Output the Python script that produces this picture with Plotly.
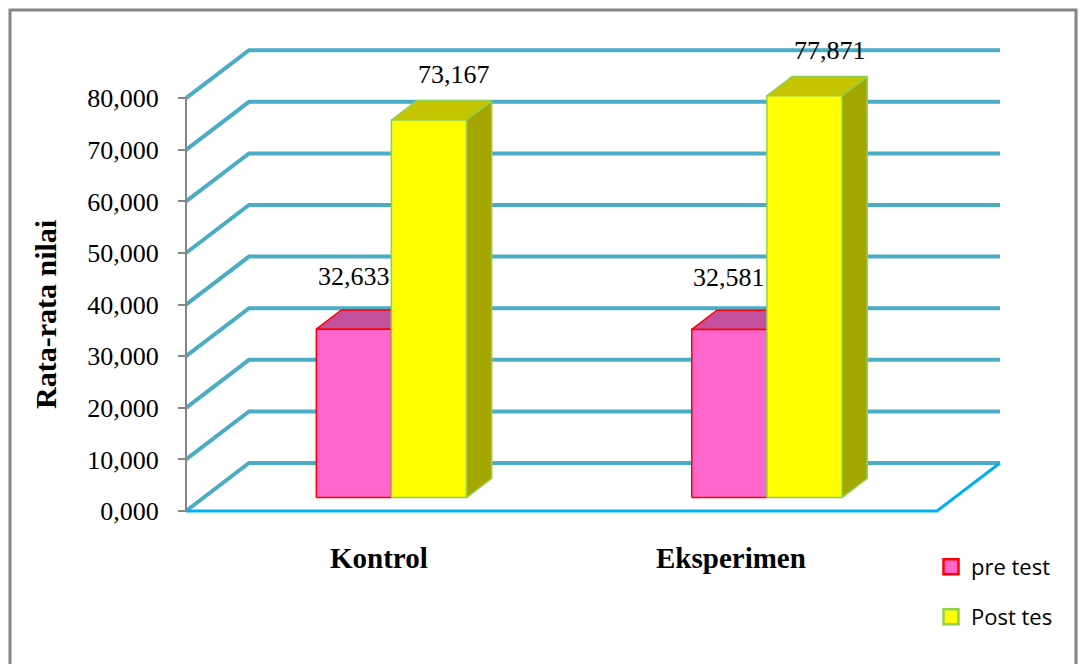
import plotly.graph_objects as go

# ---- data -------------------------------------------------------------
categories = ["Kontrol", "Eksperimen"]
series_names = ["pre test", "Post tes"]
pre_test = [32.633, 32.581]
post_test = [73.167, 77.871]
y_ticks = [0, 10, 20, 30, 40, 50, 60, 70, 80]
y_title = "Rata-rata nilai"


def fmt(v):
    # Indonesian style: decimal comma, three decimals
    return f"{v:.3f}".replace(".", ",")


# ---- page / projection constants --------------------------------------
W, H = 1088, 664
L, R, T, B = 150, 70, 40, 144
PX_X = 375.5          # pixels per category slot
PX_Y = 5.16           # pixels per value unit
X0_PX, Y0_PX = 186, 511   # pixel position of the front-left origin
DEPTH_X = 63 / PX_X   # depth vector of the pseudo-3D box, in axis units
DEPTH_Y = 48 / PX_Y
BAR_W = 0.2
D_FRONT, D_BACK = 0.28, 0.68   # bar front / back planes as depth fractions
CAT_LABEL_SHIFT = [5, -18]     # horizontal nudge of the category captions

plot_w, plot_h = W - L - R, H - T - B
x_range = [(L - X0_PX) / PX_X, (W - R - X0_PX) / PX_X]
y_range = [-(T + plot_h - Y0_PX) / PX_Y, (Y0_PX - T) / PX_Y]


def px_to_paper_x(px):
    return (px - L) / plot_w


def px_to_paper_y(py):
    return (T + plot_h - py) / plot_h


GRID = "#4BACC6"
FLOOR = "#00B0F0"
AXIS = "#868686"
SERIF = "Liberation Serif, Times New Roman, serif"
SANS = "Open Sans, Liberation Sans, sans-serif"

styles = {
    "pre test": dict(front="#FF66CC", top="#C2509C", side="#A8428A", edge="#FF0000"),
    "Post tes": dict(front="#FFFF00", top="#C4C400", side="#A6A600", edge="#92D050"),
}

fig = go.Figure()
n_cat = len(categories)

# back wall gridlines with their diagonal runs along the side wall
for v in y_ticks:
    fig.add_trace(go.Scatter(
        x=[0, DEPTH_X, n_cat + DEPTH_X],
        y=[v, v + DEPTH_Y, v + DEPTH_Y],
        mode="lines", line=dict(color=GRID, width=4),
        hoverinfo="skip", showlegend=False))

# floor outline (front edge and right edge)
fig.add_trace(go.Scatter(
    x=[0, n_cat, n_cat + DEPTH_X],
    y=[0, 0, DEPTH_Y],
    mode="lines", line=dict(color=FLOOR, width=3),
    hoverinfo="skip", showlegend=False))

# front value axis line
fig.add_trace(go.Scatter(
    x=[0, 0], y=[y_ticks[0], y_ticks[-1]],
    mode="lines", line=dict(color=AXIS, width=2),
    hoverinfo="skip", showlegend=False))


def face(xs, ys, fill, edge):
    fig.add_trace(go.Scatter(
        x=xs + [xs[0]], y=ys + [ys[0]], mode="lines", fill="toself",
        fillcolor=fill, line=dict(color=edge, width=1.5),
        hoverinfo="skip", showlegend=False))


series_values = [pre_test, post_test]
annotations = []
n_ser = len(series_names)
for i, cat in enumerate(categories):
    for j, name in enumerate(series_names):
        st = styles[name]
        v = series_values[j][i]
        xl = i + 0.5 - n_ser * BAR_W / 2 + j * BAR_W
        xr = xl + BAR_W
        fx, fy = D_FRONT * DEPTH_X, D_FRONT * DEPTH_Y
        bx, by = D_BACK * DEPTH_X, D_BACK * DEPTH_Y
        # right side face
        face([xr + fx, xr + bx, xr + bx, xr + fx],
             [fy, by, v + by, v + fy], st["side"], st["edge"])
        # top face
        face([xl + fx, xr + fx, xr + bx, xl + bx],
             [v + fy, v + fy, v + by, v + by], st["top"], st["edge"])
        # front face
        face([xl + fx, xr + fx, xr + fx, xl + fx],
             [fy, fy, v + fy, v + fy], st["front"], st["edge"])
        # value label
        if j == 0:
            lx, shift = (xl + xr) / 2 + fx, 33
        else:
            lx, shift = (xl + xr) / 2 + bx, 26
        annotations.append(dict(
            x=lx, y=v + by, xref="x", yref="y", text=fmt(v),
            showarrow=False, yshift=shift,
            font=dict(family=SERIF, size=26, color="#000000")))

    # category caption under the floor
    annotations.append(dict(
        x=i + 0.5, y=px_to_paper_y(558), xref="x", yref="paper",
        text=cat, showarrow=False, xanchor="center", yanchor="middle",
        xshift=CAT_LABEL_SHIFT[i],
        font=dict(family=SERIF, size=29, color="#000000", weight="bold")))

# legend entries
for k, name in enumerate(series_names):
    st = styles[name]
    fig.add_trace(go.Scatter(
        x=[None], y=[None], mode="markers", name=name,
        marker=dict(symbol="square", size=15, color=st["front"],
                    line=dict(color=st["edge"], width=2.5)),
        legend="legend" if k == 0 else "legend2"))

annotations.append(dict(
    x=px_to_paper_x(45), y=px_to_paper_y(315), xref="paper", yref="paper",
    xanchor="center", yanchor="middle",
    text=y_title, textangle=-90, showarrow=False,
    font=dict(family=SERIF, size=30, color="#000000", weight="bold")))

legend_common = dict(
    xanchor="left", yanchor="middle", bgcolor="rgba(0,0,0,0)",
    font=dict(family=SANS, size=22, color="#000000"), borderwidth=0)

fig.update_layout(
    width=W, height=H,
    margin=dict(l=L, r=R, t=T, b=B),
    paper_bgcolor="#FFFFFF", plot_bgcolor="#FFFFFF",
    showlegend=True,
    legend=dict(x=px_to_paper_x(931), y=px_to_paper_y(567), **legend_common),
    legend2=dict(x=px_to_paper_x(931), y=px_to_paper_y(617), **legend_common),
    xaxis=dict(
        range=x_range, showgrid=False, zeroline=False, showline=False,
        showticklabels=False, ticks=""),
    yaxis=dict(
        range=y_range, showgrid=False, zeroline=False, showline=False,
        anchor="free", position=px_to_paper_x(X0_PX),
        tickmode="array", tickvals=y_ticks,
        ticktext=[fmt(v) for v in y_ticks],
        ticks="outside", ticklen=8, tickwidth=2, tickcolor=AXIS,
        ticklabelstandoff=14,
        tickfont=dict(family=SERIF, size=26, color="#000000")),
    annotations=annotations,
    shapes=[dict(
        type="rect", xref="paper", yref="paper",
        x0=px_to_paper_x(10), x1=px_to_paper_x(1076),
        y0=px_to_paper_y(700), y1=px_to_paper_y(10),
        line=dict(color=AXIS, width=3), fillcolor="rgba(0,0,0,0)",
        layer="below")],
)

fig.write_html("out.html")
